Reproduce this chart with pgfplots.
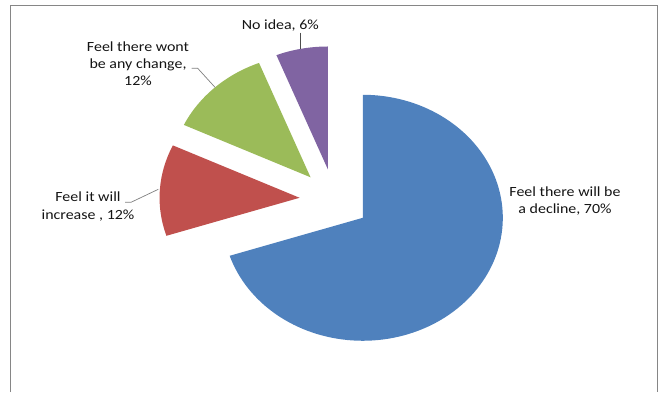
\documentclass[border=0pt]{standalone}
\usepackage{pgfplots}
\pgfplotsset{compat=1.18}
\usepackage{fontspec}
\setmainfont{Carlito}
\usepackage{graphicx}
\definecolor{pieblue}{RGB}{79,129,189}
\definecolor{piered}{RGB}{192,80,77}
\definecolor{piegreen}{RGB}{155,187,89}
\definecolor{piepurple}{RGB}{128,100,162}
\definecolor{framegray}{RGB}{134,134,134}
\definecolor{leadgray}{RGB}{128,128,128}
\definecolor{txt}{RGB}{20,20,20}
% pie geometry (px): centre, radii (image is stretched horizontally), explosion
\def\cx{334.5}\def\cy{192.3}\def\rx{140}\def\ry{123}\def\ex{0.25}
% \slice{cumulative start %}{value %}{colour}
\newcommand\slice[3]{%
  \pgfmathsetmacro\aS{90-3.6*#1}%
  \pgfmathsetmacro\aE{90-3.6*(#1+#2)}%
  \pgfmathsetmacro\aM{90-3.6*(#1+#2/2)}%
  \pgfmathsetmacro\ox{\cx+\ex*\rx*cos(\aM)}%
  \pgfmathsetmacro\oy{\cy+\ex*\ry*sin(\aM)}%
  \edef\temp{\noexpand\addplot[fill=#3, draw=none, domain=\aE:\aS, samples=120, variable=\noexpand\t]
    ({\ox+\rx*cos(\noexpand\t)},{\oy+\ry*sin(\noexpand\t)}) -- (axis cs:\ox,\oy) -- cycle;}%
  \temp}
\newcommand\lab[1]{\scalebox{1.14}[1]{\fontsize{14bp}{17.4bp}\selectfont\color{txt}\begin{tabular}{@{}c@{}}#1\end{tabular}}}
\begin{document}
\begin{tikzpicture}
\begin{axis}[x=1bp, y=1bp, xmin=0, xmax=659, ymin=0, ymax=392,
  hide axis, clip=false]
  \path (axis cs:0,0) rectangle (axis cs:659,392);
  % frame (bottom edge lies outside the picture)
  \draw[framegray, line width=1.2bp] (axis cs:10.5,0) -- (axis cs:10.5,386.5) -- (axis cs:657.5,386.5) -- (axis cs:657.5,0);
  % data: 70, 12, 12, 6 (%)
  \slice{0}{70}{pieblue}
  \slice{70}{12}{piered}
  \slice{82}{12}{piegreen}
  \slice{94}{6}{piepurple}
  % leader lines
  \draw[leadgray, line width=0.7bp] (axis cs:125,189.7) -- (axis cs:131,189.7) -- (axis cs:158.3,202.7);
  \draw[leadgray, line width=0.7bp] (axis cs:191.7,323.7) -- (axis cs:197.7,323.7) -- (axis cs:215,304.7);
  \draw[leadgray!60!black, line width=0.7bp] (axis cs:300.7,359.3) -- (axis cs:300.7,342.7);
  % labels
  \node at (axis cs:565,190.7) {\lab{Feel there will be\\a decline, 70\%}};
  \node at (axis cs:88,185) {\lab{Feel it will\\increase , 12\%}};
  \node at (axis cs:138,327) {\lab{Feel there wont\\be any change,\\12\%}};
  \node at (axis cs:280.3,366) {\lab{No idea, 6\%}};
\end{axis}
\end{tikzpicture}
\end{document}
